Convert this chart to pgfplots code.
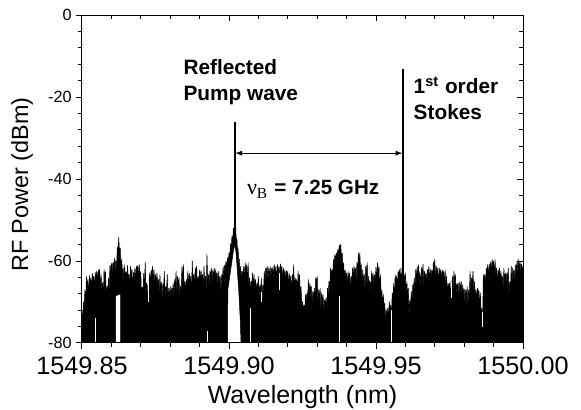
\documentclass[border=0pt]{standalone}
\usepackage{fontspec}
\setmainfont{Liberation Sans}
\newfontfamily\seriffont{Liberation Serif}
\usepackage{pgfplots}
\pgfplotsset{compat=1.18}
\usetikzlibrary{arrows.meta}
% x data are given as (wavelength - 1549 nm) to keep TeX's arithmetic precise
\begin{document}
\begin{tikzpicture}
\pgfplotsset{
  common/.style={
    scale only axis, width=220.5pt, height=164pt,
    xmin=0.85, xmax=1.00, ymin=-80, ymax=0,
    xtick={0.85,0.90,0.95,1.00},
    ytick={-80,-60,-40,-20,0},
    minor x tick num=4, minor y tick num=4,
    major tick length=3.2pt, minor tick length=1.9pt,
    axis line style={line width=0.5pt},
    every tick/.style={black, line width=0.5pt},
  }
}
\begin{axis}[common,
  axis on top,
  tick align=outside, xtick pos=left, ytick pos=left,
  xticklabels={1549.85,1549.90,1549.95,1550.00},
  yticklabels={-80,-60,-40,-20,0},
  xticklabel style={font=\fontsize{12.6}{14}\selectfont},
  yticklabel style={font=\fontsize{8.1}{10}\selectfont, xshift=1.5pt},
  xlabel={Wavelength (nm)},
  ylabel={RF Power (dBm)},
  xlabel style={font=\fontsize{12.5}{14}\selectfont, at={(axis description cs:0.5,-0.1838)}, anchor=base},
  ylabel style={font=\fontsize{11.7}{14}\selectfont, at={(axis description cs:-0.1224,0.483)}, anchor=base},
]
% noise floor with peaks (upper envelope, then lower envelope back)
\addplot[fill=black, draw=black, line width=0.25pt, line join=round, mark=none] coordinates {
(0.8500,-80)
(0.8500,-72) (0.85025,-74.5) (0.8505,-70) (0.85075,-71.2) (0.8510,-67) (0.85125,-70.5) (0.8515,-63.7) (0.85175,-66.3) (0.8520,-64.5) (0.85225,-68.7)
(0.8525,-63.5) (0.85275,-65.6) (0.8530,-64.1) (0.85325,-66.9) (0.8535,-63) (0.85375,-64.6) (0.8540,-63.7) (0.85425,-66.9) (0.8545,-62.8) (0.85475,-64.8)
(0.8550,-62.5) (0.85525,-65) (0.8555,-62.1) (0.85575,-63.3) (0.8560,-62) (0.85625,-66.8) (0.8565,-63.3) (0.85675,-67.1) (0.8570,-65.3) (0.85725,-69.5)
(0.8575,-62.1) (0.85775,-64.1) (0.8580,-62.6) (0.85825,-69) (0.8585,-66.2) (0.85875,-67.1) (0.8590,-64.1) (0.85925,-67.3) (0.8595,-61) (0.85975,-63)
(0.8600,-60.5) (0.86025,-63) (0.8605,-60.4) (0.86075,-61.6) (0.8610,-59.2) (0.86125,-63.3) (0.8615,-59.8) (0.86175,-61.6) (0.8620,-56.5) (0.86225,-58)
(0.8625,-54.3) (0.86275,-57.8) (0.8630,-56.8) (0.86325,-61.5) (0.8635,-59.5) (0.86375,-62.6) (0.8640,-61.7) (0.86425,-64.9) (0.8645,-60.9) (0.86475,-64.5)
(0.8650,-62.5) (0.86525,-65) (0.8655,-61) (0.86575,-64.5) (0.8660,-63.3) (0.86625,-66.8) (0.8665,-61.3) (0.86675,-63.8) (0.8670,-62) (0.86725,-67)
(0.8675,-62.8) (0.86775,-64.3) (0.8680,-61.7) (0.86825,-64.5) (0.8685,-61.3) (0.86875,-62.2) (0.8690,-61) (0.86925,-64.2) (0.8695,-60.9) (0.86975,-64.5)
(0.8700,-62.5) (0.87025,-68.9) (0.8705,-66.4) (0.87075,-67.6) (0.8710,-63) (0.87125,-66.5) (0.8715,-60.2) (0.87175,-67.2) (0.8720,-65.4) (0.87225,-69.6)
(0.8725,-64.9) (0.87275,-66.4) (0.8730,-62.9) (0.87325,-65.7) (0.8735,-62.2) (0.87375,-63.1) (0.8740,-61.3) (0.87425,-65.3) (0.8745,-62.1) (0.87475,-65.3)
(0.8750,-63.3) (0.87525,-65.8) (0.8755,-62.9) (0.87575,-65.7) (0.8760,-64.5) (0.87625,-68) (0.8765,-63.3) (0.87675,-67) (0.8770,-65.2) (0.87725,-69.6)
(0.8775,-65.4) (0.87775,-66.9) (0.8780,-62.5) (0.87825,-69) (0.8785,-66.2) (0.87875,-67.1) (0.8790,-63.3) (0.87925,-69.8) (0.8795,-66.6) (0.87975,-68.6)
(0.8800,-66.2) (0.88025,-69.1) (0.8805,-66.6) (0.88075,-67.8) (0.8810,-65.4) (0.88125,-68.9) (0.8815,-64.5) (0.88175,-66.3) (0.8820,-62.5) (0.88225,-67.9)
(0.8825,-63.7) (0.88275,-65.6) (0.8830,-64.1) (0.88325,-69) (0.8835,-66.2) (0.88375,-67.1) (0.8840,-61.3) (0.88425,-64.5) (0.8845,-60.9) (0.88475,-66.9)
(0.8850,-64.9) (0.88525,-67.4) (0.8855,-64.5) (0.88575,-65.7) (0.8860,-62.5) (0.88625,-66.4) (0.8865,-62.9) (0.88675,-65.5) (0.8870,-63.7) (0.88725,-67.9)
(0.8875,-60.0) (0.88775,-64.8) (0.8880,-63.3) (0.88825,-66.1) (0.8885,-61.7) (0.88875,-62.6) (0.8890,-61.3) (0.88925,-66.9) (0.8895,-63.7) (0.88975,-65.7)
(0.8900,-62.1) (0.89025,-64.8) (0.8905,-62.3) (0.89075,-64.5) (0.8910,-63.3) (0.89125,-66.8) (0.8915,-61.3) (0.89175,-65.5) (0.8920,-63.7) (0.89225,-67.9)
(0.8925,-58.4) (0.89275,-64.8) (0.8930,-63.3) (0.89325,-66.1) (0.8935,-62.5) (0.89375,-63.4) (0.8940,-61.7) (0.89425,-65.3) (0.8945,-62.1) (0.89475,-64.1)
(0.8950,-61.7) (0.89525,-64.6) (0.8955,-62.1) (0.89575,-64.1) (0.8960,-62.9) (0.89625,-66.4) (0.8965,-62.5) (0.89675,-65.5) (0.8970,-63.7) (0.89725,-67.9)
(0.8975,-63.3) (0.89775,-64.8) (0.8980,-61.3) (0.89825,-64.1) (0.8985,-61) (0.89875,-61.9) (0.8990,-60) (0.89925,-62) (0.8995,-59.2) (0.89975,-60.2)
(0.9000,-58) (0.90025,-59) (0.9005,-55.8) (0.90075,-56.8) (0.9010,-54) (0.90125,-55) (0.9015,-52) (0.9017,-52.8) (0.9019,-50.5) (0.9021,-52.8)
(0.9023,-52) (0.9025,-55.5) (0.9027,-54.5) (0.9029,-58) (0.9031,-57) (0.9033,-61) (0.9035,-59.5) (0.90375,-63.3)
(0.9040,-61.3) (0.90425,-65) (0.9045,-62.5) (0.90475,-63.7) (0.9050,-61.3) (0.90525,-64.8) (0.9055,-60.4) (0.90575,-62.7) (0.9060,-60.9) (0.90625,-65.1)
(0.9065,-60.4) (0.90675,-65.6) (0.9070,-64.1) (0.90725,-67.7) (0.9075,-64.9) (0.90775,-65.8) (0.9080,-62.9) (0.90825,-66.5) (0.9085,-63.3) (0.90875,-66.5)
(0.9090,-64.5) (0.90925,-67.9) (0.9095,-65.4) (0.90975,-66.6)
(0.9100,-63.7) (0.91025,-69.3) (0.9105,-65.8) (0.91075,-67.6) (0.9110,-64.1) (0.91125,-70) (0.9115,-65.8) (0.91175,-67.3) (0.9120,-62.5) (0.91225,-65.3)
(0.9125,-61.7) (0.91275,-62.6) (0.9130,-61.3) (0.91325,-64.9) (0.9135,-61.7) (0.91375,-63.7) (0.9140,-61.3) (0.91425,-64.2) (0.9145,-61.7) (0.91475,-62.9)
(0.9150,-61.3) (0.91525,-64.8) (0.9155,-60.9) (0.91575,-63.1) (0.9160,-61.3) (0.91625,-65.5) (0.9165,-60.9) (0.91675,-62.8) (0.9170,-61.3) (0.91725,-64.1)
(0.9175,-60.7) (0.91775,-62.2) (0.9180,-61.3) (0.91825,-64.9) (0.9185,-61.7) (0.91875,-64.1) (0.9190,-62.1) (0.91925,-64.8) (0.9195,-62.3) (0.91975,-63.7)
(0.9200,-62.5) (0.92025,-66.6) (0.9205,-63.1) (0.92075,-65.5) (0.9210,-63.7) (0.92125,-67.9) (0.9215,-63.3) (0.92175,-64.8) (0.9220,-60.9) (0.92225,-66.9)
(0.9225,-64.1) (0.92275,-65.4) (0.9230,-64.5) (0.92325,-67.7) (0.9235,-62.5) (0.92375,-65.3) (0.9240,-63.3) (0.92425,-68.7) (0.9245,-66.2) (0.92475,-71.1)
(0.9250,-69.9) (0.92525,-72.2) (0.9255,-70.7) (0.92575,-72.5) (0.9260,-68.2) (0.92625,-70.2) (0.9265,-67.8) (0.92675,-69.3) (0.9270,-64.5) (0.92725,-68.2)
(0.9275,-65.4) (0.92775,-67.1) (0.9280,-66.2) (0.92825,-70.6) (0.9285,-67.4) (0.92875,-69.4) (0.9290,-66.6) (0.92925,-69.1) (0.9295,-64.1) (0.92975,-65.3)
(0.9300,-63.7) (0.93025,-70.5) (0.9305,-67.0) (0.93075,-68.8) (0.9310,-66.6) (0.93125,-72) (0.9315,-67.8) (0.93175,-69.7) (0.9320,-68.2) (0.93225,-72.3)
(0.9325,-69.5) (0.93275,-70.4) (0.9330,-69.0) (0.93325,-72.2) (0.9335,-66.6) (0.93375,-68.6) (0.9340,-64.9) (0.93425,-67.4) (0.9345,-61.7) (0.93475,-63.3)
(0.9350,-62.1) (0.93525,-64.1) (0.9355,-59.6) (0.93575,-60.8) (0.9360,-58.4) (0.93625,-59.9) (0.9365,-58.0) (0.93675,-59) (0.9370,-57.2) (0.93725,-58.4)
(0.9375,-56.1) (0.93775,-56.9) (0.9380,-55.9) (0.93825,-59.2) (0.9385,-58.0) (0.93875,-61.4) (0.9390,-60.4) (0.93925,-64.6) (0.9395,-62.1) (0.93975,-64.1)
(0.9400,-62.9) (0.94025,-66.4) (0.9405,-62.5) (0.94075,-64.7) (0.9410,-62.9) (0.94125,-67.9) (0.9415,-63.7) (0.94175,-65.2) (0.9420,-61.7) (0.94225,-64.5)
(0.9425,-61.3) (0.94275,-62.6) (0.9430,-61.7) (0.94325,-64.9) (0.9435,-60.4) (0.94375,-62.4) (0.9440,-58.0) (0.94425,-60.5) (0.9445,-58.0) (0.94475,-62.1)
(0.9450,-60.9) (0.94525,-65.6) (0.9455,-62.1) (0.94575,-65.1) (0.9460,-63.3) (0.94625,-67.5) (0.9465,-61.3) (0.94675,-62.8) (0.9470,-60.4) (0.94725,-66.5)
(0.9475,-63.7) (0.94775,-65.8) (0.9480,-64.9) (0.94825,-68.1) (0.9485,-62.5) (0.94875,-64.9) (0.9490,-62.9) (0.94925,-65.8) (0.9495,-63.3) (0.94975,-64.5)
(0.9500,-61.5) (0.95025,-65) (0.9505,-60.4) (0.95075,-63.1) (0.9510,-61.3) (0.95125,-67.5) (0.9515,-63.3) (0.95175,-68.5) (0.9520,-67.0) (0.95225,-71)
(0.9525,-68.2) (0.95275,-71.2) (0.9530,-70.3) (0.95325,-75.1) (0.9535,-71.9) (0.95375,-73.9) (0.9540,-71.5) (0.95425,-74) (0.9545,-69.9) (0.95475,-71.9)
(0.9550,-70.7) (0.95525,-74.2) (0.9555,-67.8) (0.95575,-69.6) (0.9560,-65.4) (0.95625,-69.6) (0.9565,-63.3) (0.95675,-65.2) (0.9570,-63.7) (0.95725,-66.5)
(0.9575,-62.5) (0.95775,-63.4) (0.9580,-62.1) (0.95825,-65.3) (0.9585,-61.7) (0.95875,-64.9) (0.9590,-62.9) (0.95925,-65.8) (0.9595,-63.3) (0.95975,-64.5)
(0.9600,-62.9) (0.96025,-68.5) (0.9605,-65.0) (0.96075,-68.4) (0.9610,-66.6) (0.96125,-73.7) (0.9615,-69.5) (0.96175,-71) (0.9620,-67.4) (0.96225,-70.2)
(0.9625,-65.8) (0.96275,-66.7) (0.9630,-64.1) (0.96325,-67.3) (0.9635,-62.1) (0.96375,-64.1) (0.9640,-61.3) (0.96425,-63.8) (0.9645,-60.9) (0.96475,-64.1)
(0.9650,-62.9) (0.96525,-66.4) (0.9655,-61.5) (0.96575,-63.3) (0.9660,-60.7) (0.96625,-66.7) (0.9665,-62.5) (0.96675,-64.4) (0.9670,-62.9) (0.96725,-65.7)
(0.9675,-62.1) (0.96775,-63) (0.9680,-61.3) (0.96825,-65.3) (0.9685,-62.1) (0.96875,-64.1) (0.9690,-62.1) (0.96925,-64.6) (0.9695,-60.2) (0.96975,-61.4)
(0.9700,-59.6) (0.97025,-64.8) (0.9705,-61.3) (0.97075,-63.5) (0.9710,-61.7) (0.97125,-65.9) (0.9715,-61.7) (0.97175,-63.6) (0.9720,-62.1) (0.97225,-64.9)
(0.9725,-62.1) (0.97275,-63.4) (0.9730,-62.5) (0.97325,-65.7) (0.9735,-62.1) (0.97375,-65.7) (0.9740,-63.7) (0.97425,-67.9) (0.9745,-65.4) (0.97475,-66.6)
(0.9750,-65.4) (0.97525,-68.9) (0.9755,-65.0) (0.97575,-66.8) (0.9760,-63.7) (0.97625,-67.9) (0.9765,-62.5) (0.97675,-64.8) (0.9770,-63.3) (0.97725,-68.2)
(0.9775,-65.4) (0.97775,-66.3) (0.9780,-65.4) (0.97825,-68.6) (0.9785,-65.0) (0.97875,-67.1) (0.9790,-65.1) (0.97925,-68.3) (0.9795,-65.8) (0.97975,-68)
(0.9800,-66.8) (0.98025,-70.5) (0.9805,-67.0) (0.98075,-68.8) (0.9810,-66.2) (0.98125,-71.2) (0.9815,-67.0) (0.98175,-68.5) (0.9820,-62.5) (0.98225,-66.9)
(0.9825,-64.1) (0.98275,-65) (0.9830,-62.5) (0.98325,-68.2) (0.9835,-65.0) (0.98375,-69) (0.9840,-67.0) (0.98425,-69.5) (0.9845,-66.6) (0.98475,-68.2)
(0.9850,-67.0) (0.98525,-71.3) (0.9855,-67.8) (0.98575,-73.3) (0.9860,-71.5) (0.98625,-75.7) (0.9865,-63.3) (0.98675,-64.8) (0.9870,-63.3) (0.98725,-66.1)
(0.9875,-61.7) (0.98775,-62.6) (0.9880,-60.9) (0.98825,-64.1) (0.9885,-60.7) (0.98875,-62.7) (0.9890,-60.2) (0.98925,-62.7) (0.9895,-59.6) (0.98975,-61.2)
(0.9900,-60.0) (0.99025,-63.5) (0.9905,-59.6) (0.99075,-63.5) (0.9910,-61.7) (0.99125,-66.3) (0.9915,-62.1) (0.99175,-63.6) (0.9920,-61.7) (0.99225,-65.3)
(0.9925,-62.5) (0.99275,-64.6) (0.9930,-63.7) (0.99325,-66.9) (0.9935,-61.7) (0.99375,-64.9) (0.9940,-62.9) (0.99425,-65.4) (0.9945,-62.9) (0.99475,-64.1)
(0.9950,-61.7) (0.99525,-68.5) (0.9955,-65.0) (0.99575,-66.8) (0.9960,-61.3) (0.99625,-65.9) (0.9965,-61.7) (0.99675,-63.6) (0.9970,-62.1) (0.99725,-64.9)
(0.9975,-60.9) (0.99775,-61.8) (0.9980,-59.9) (0.99825,-63.1) (0.9985,-59.6) (0.99875,-62) (0.9990,-60.0) (0.99925,-63.2) (0.9995,-60.7) (0.99975,-62.5)
(1.0000,-61.3)
(1.0000,-80) (0.9041,-80) (0.9038,-74) (0.9033,-67) (0.9028,-62) (0.9024,-58) (0.9020,-56) (0.9015,-57.5) (0.9009,-60.5) (0.9003,-63.5) (0.8996,-67) (0.8995,-80)
(0.8631,-80) (0.8631,-68) (0.8614,-68.5) (0.8614,-80) (0.8500,-80)
};
% thin white gaps in the trace
\addplot[white, line width=0.3pt, mark=none] coordinates {(0.8546,-80) (0.8546,-74)};
\addplot[white, line width=0.3pt, mark=none] coordinates {(0.8927,-80) (0.8927,-77)};
\addplot[white, line width=0.3pt, mark=none] coordinates {(0.9072,-80) (0.9072,-71.5)};
\addplot[white, line width=0.35pt, mark=none] coordinates {(0.9374,-80) (0.9374,-68.5)};
\addplot[white, line width=0.35pt, mark=none] coordinates {(0.9552,-80) (0.9552,-72)};
\addplot[white, line width=0.25pt, mark=none] coordinates {(0.8726,-63) (0.8726,-70)};
\addplot[white, line width=0.25pt, mark=none] coordinates {(0.9172,-63) (0.9172,-67)};
\addplot[white, line width=0.25pt, mark=none] coordinates {(0.9108,-67.5) (0.9108,-70)};
\addplot[white, line width=0.25pt, mark=none] coordinates {(0.9757,-65) (0.9757,-69)};
\addplot[white, line width=0.25pt, mark=none] coordinates {(0.9862,-72.5) (0.9862,-76)};
% reflected pump and 1st order Stokes lines
\addplot[black, line width=1pt, mark=none] coordinates {(0.9019,-52) (0.9019,-26.1)};
\addplot[black, line width=1pt, mark=none] coordinates {(0.9592,-64) (0.9592,-13.2)};
% annotations
\draw[line width=0.5pt, {Latex[length=3.5pt,width=2.6pt]}-{Latex[length=3.5pt,width=2.6pt]}]
  (axis cs:0.90207,-33.7) -- (axis cs:0.95903,-33.7);
\node[anchor=base west, inner sep=0pt, font=\bfseries\fontsize{10.4}{12}\selectfont] at (axis cs:0.8844,-14.63) {Reflected};
\node[anchor=base west, inner sep=0pt, font=\bfseries\fontsize{10.4}{12}\selectfont] at (axis cs:0.8844,-20.73) {Pump wave};
\node[anchor=base west, inner sep=0pt, font=\bfseries\fontsize{10.4}{12}\selectfont] at (axis cs:0.9627,-19.1) {1\textsuperscript{st} order};
\node[anchor=base west, inner sep=0pt, font=\bfseries\fontsize{10.4}{12}\selectfont] at (axis cs:0.9627,-25.4) {Stokes};
\node[anchor=base west, inner sep=0pt, font=\bfseries\fontsize{10.3}{12}\selectfont] at (axis cs:0.9060,-43.9) {{\seriffont\mdseries\fontsize{11}{12}\selectfont ν\textsubscript{B}}\hspace{0.3em}= 7.25 GHz};
\end{axis}
\begin{axis}[common,
  tick align=inside, xtick pos=right, ytick pos=right,
  xticklabels={}, yticklabels={},
]
\end{axis}
\pgfresetboundingbox
\path (-41pt,-33.5pt) rectangle (249.5pt,171.5pt);
\end{tikzpicture}
\end{document}
